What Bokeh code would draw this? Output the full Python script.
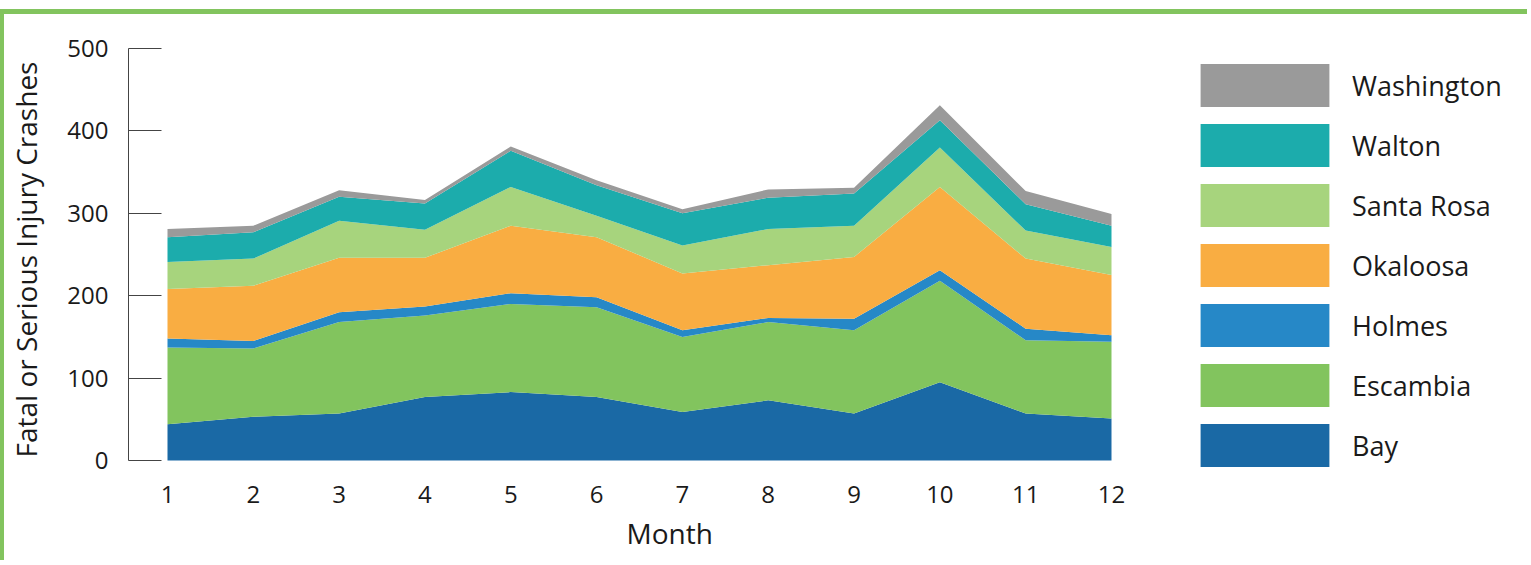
from bokeh.plotting import figure
from bokeh.models import (ColumnDataSource, Range1d, FixedTicker, Legend, LegendItem, Title)
from bokeh.embed import file_html
from bokeh.resources import INLINE

months = [1, 2, 3, 4, 5, 6, 7, 8, 9, 10, 11, 12]
bay = [44, 53, 57, 77, 83, 77, 59, 73, 57, 95, 57, 51]
escambia = [93, 83, 111, 99, 107, 109, 91, 95, 101, 123, 89, 93]
holmes = [11, 9, 12, 11, 13, 12, 8, 5, 14, 13, 14, 8]
okaloosa = [60, 67, 66, 59, 82, 73, 69, 64, 75, 101, 85, 73]
santa_rosa = [33, 33, 45, 34, 47, 26, 34, 44, 38, 48, 34, 34]
walton = [30, 32, 29, 32, 44, 37, 39, 38, 39, 33, 32, 26]
washington = [10, 8, 8, 4, 5, 6, 5, 10, 7, 18, 16, 14]

names = ["Bay", "Escambia", "Holmes", "Okaloosa", "Santa Rosa", "Walton", "Washington"]
colors = ["#1a69a5", "#82c45e", "#2688c7", "#f9ad42", "#a7d47d", "#1cacac", "#9a9a9a"]
y_ticks = [0, 100, 200, 300, 400, 500]

source = ColumnDataSource(dict(month=months, Bay=bay, Escambia=escambia, Holmes=holmes,
                               Okaloosa=okaloosa, **{"Santa Rosa": santa_rosa},
                               Walton=walton, Washington=washington))

FONT = "Open Sans"
GREEN = "#82c45e"

# frame extends a little below 0 so the lowest legend swatch is not clipped
p = figure(width=1527, height=551, output_backend="svg", toolbar_location=None,
           x_range=Range1d(0.5456, 16.894), y_range=Range1d(-12.136, 500),
           min_border_left=124, min_border_right=0, min_border_top=34,
           min_border_bottom=95)
p.styles = {"border-top": "5px solid " + GREEN, "border-left": "4px solid " + GREEN,
            "margin-top": "9px"}
p.outline_line_color = None
p.xgrid.visible = False
p.ygrid.visible = False
p.background_fill_color = "white"
p.border_fill_color = "white"

renderers = p.varea_stack(stackers=names, x="month", color=colors, source=source)

# axes
p.xaxis.ticker = FixedTicker(ticks=months)
p.xaxis.axis_line_color = None
p.xaxis.major_tick_line_color = None
p.xaxis.minor_tick_line_color = None
p.xaxis.major_label_standoff = 9

p.yaxis.ticker = FixedTicker(ticks=y_ticks)
p.yaxis.bounds = (0, 500)
p.yaxis.axis_line_color = "#444444"
p.yaxis.major_tick_line_color = "#444444"
p.yaxis.major_tick_in = 33
p.yaxis.major_tick_out = 0
p.yaxis.minor_tick_line_color = None
p.yaxis.major_label_standoff = 20
p.yaxis.axis_label = "Fatal or Serious Injury Crashes"
p.yaxis.axis_label_standoff = 19

for ax in (p.xaxis, p.yaxis):
    ax.major_label_text_font = FONT
    ax.major_label_text_font_size = "24px"
    ax.major_label_text_color = "#1a1a1a"
    ax.axis_label_text_font = FONT
    ax.axis_label_text_font_size = "28px"
    ax.axis_label_text_font_style = "normal"
    ax.axis_label_text_color = "#1a1a1a"

# x-axis title placed under the plotted months (not under the whole frame)
p.add_layout(Title(text="Month", align="left", offset=498, standoff=12,
                   text_font=FONT, text_font_size="28px", text_font_style="normal",
                   text_color="#1a1a1a"), "below")

items = [LegendItem(label=n, renderers=[r]) for n, r in zip(names, renderers)][::-1]
legend = Legend(items=items, location=(1056, -2), orientation="vertical",
                glyph_width=161, glyph_height=54, spacing=6, label_standoff=7,
                padding=0, margin=0, border_line_color=None, background_fill_alpha=0,
                label_text_font=FONT, label_text_font_size="27px",
                label_text_color="#1a1a1a", label_height=54)
p.add_layout(legend)

open("out.html", "w").write(file_html(p, INLINE))
